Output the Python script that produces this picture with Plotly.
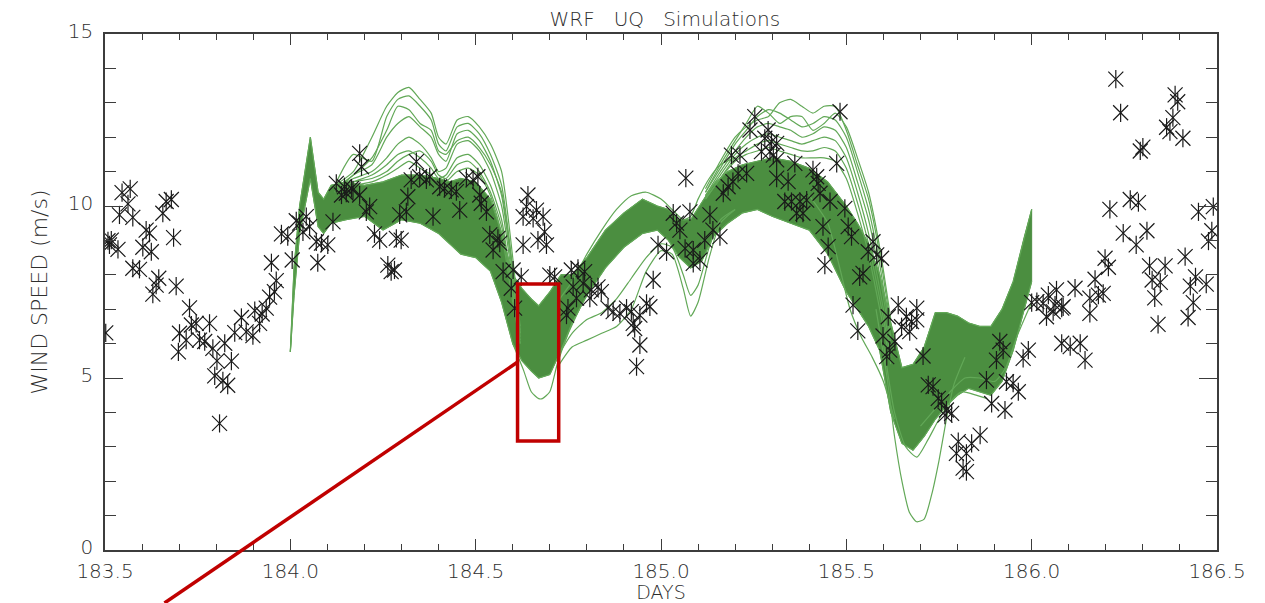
import plotly.graph_objects as go

# ---------------- ensemble: dense core band (lower / upper envelope) ----------------
core_day = [184.000, 184.010, 184.025, 184.054, 184.075, 184.090, 184.110, 184.150, 184.200, 184.250,
            184.300, 184.350, 184.400, 184.430, 184.460, 184.500, 184.540, 184.570, 184.600, 184.625,
            184.650, 184.670, 184.700, 184.730, 184.760, 184.800, 184.850, 184.900, 184.950, 184.990,
            185.020, 185.050, 185.080, 185.110, 185.140, 185.180, 185.220, 185.260, 185.300, 185.350,
            185.400, 185.450, 185.500, 185.530, 185.560, 185.590, 185.620, 185.650, 185.680, 185.710,
            185.740, 185.770, 185.800, 185.830, 185.860, 185.890, 185.920, 185.950, 185.980, 186.000]
core_low = [5.76, 7.4, 9.2, 10.8, 9.4, 9.2, 9.5, 9.6, 9.7, 9.3,
            9.6, 9.5, 9.2, 8.9, 8.6, 8.5, 8.1, 7.2, 6.0, 5.5,
            5.2, 5.0, 5.1, 5.8, 6.6, 7.4, 8.2, 8.8, 9.2, 9.3,
            9.0, 8.5, 8.2, 8.4, 9.1, 9.5, 9.8, 9.9, 9.7, 9.5,
            9.3, 8.6, 7.5, 7.0, 6.5, 5.8, 4.0, 3.1, 2.9, 3.3,
            3.8, 4.2, 4.5, 4.7, 4.6, 4.5, 4.9, 5.8, 7.0, 7.8]
core_high = [5.76, 8.2, 10.0, 12.0, 10.4, 10.2, 10.6, 10.7, 10.6, 10.7,
             10.9, 10.9, 10.8, 10.7, 10.8, 10.7, 10.2, 9.2, 8.0, 7.6,
             7.3, 7.1, 7.5, 8.0, 8.0, 8.5, 9.3, 9.8, 10.2, 10.0,
             9.9, 9.6, 9.6, 10.1, 10.6, 11.0, 11.2, 11.3, 11.4, 11.3,
             11.1, 10.7, 10.0, 9.5, 8.9, 8.0, 6.6, 5.3, 5.4, 5.9,
             6.9, 6.9, 6.8, 6.6, 6.5, 6.5, 7.0, 7.8, 9.1, 9.9]

# ---------------- ensemble: individual members outside the core ----------------
hump1_day = [184.12, 184.17, 184.22, 184.26, 184.29, 184.32, 184.35, 184.38, 184.40,
             184.42, 184.45, 184.48, 184.51, 184.54, 184.57, 184.60, 184.62]
hump1_a = [10.6, 11.0, 12.0, 12.9, 13.3, 13.45, 13.1, 12.7, 12.0, 11.8, 12.5, 12.6, 12.3, 11.8, 11.0, 8.5, 6.5]
hump1_b = [10.6, 11.5, 11.3, 12.6, 13.1, 13.2, 12.9, 12.5, 11.8, 11.6, 12.3, 12.4, 12.1, 11.5, 10.6, 8.2, 6.4]
hump1_c = [10.4, 10.9, 11.2, 12.0, 12.4, 12.6, 12.3, 12.0, 11.5, 11.3, 12.1, 12.2, 11.9, 11.3, 10.3, 8.0, 6.3]
hump1_d = [10.5, 10.8, 11.0, 11.4, 11.8, 12.0, 11.8, 11.4, 11.0, 11.1, 11.8, 11.9, 11.6, 11.0, 10.0, 7.8, 6.2]
hump1_e = [10.4, 10.7, 10.9, 11.2, 11.5, 11.6, 11.4, 11.1, 10.8, 10.9, 11.4, 11.5, 11.2, 10.6, 9.6, 7.5, 6.1]
hump1_f = [10.4, 10.6, 10.7, 10.9, 11.1, 11.3, 11.1, 10.9, 10.6, 10.7, 11.0, 11.1, 10.9, 10.3, 9.2, 7.2, 6.0]
hump1_g = [10.5, 10.9, 11.4, 12.2, 12.9, 12.8, 12.4, 12.2, 11.6, 11.5, 11.9, 12.0, 11.7, 11.2, 10.4, 8.1, 6.3]
hump1_h = [10.5, 10.7, 10.8, 11.0, 11.3, 11.5, 11.6, 11.3, 10.9, 10.8, 11.2, 11.3, 11.0, 10.4, 9.4, 7.4, 6.0]

hump2_day = [185.12, 185.16, 185.20, 185.23, 185.26, 185.29, 185.32, 185.35, 185.38,
             185.41, 185.44, 185.47, 185.50, 185.53, 185.56, 185.59, 185.62]
hump2_a = [10.5, 11.3, 12.0, 12.3, 12.5, 12.6, 13.0, 13.1, 12.9, 12.7, 12.9, 12.9, 12.2, 11.2, 10.2, 8.6, 6.5]
hump2_b = [10.4, 11.1, 11.8, 12.2, 12.6, 12.8, 12.7, 12.5, 12.3, 12.4, 12.6, 12.5, 12.0, 11.0, 9.9, 8.3, 6.2]
hump2_c = [10.3, 11.0, 11.6, 12.0, 12.3, 12.4, 12.3, 12.2, 12.0, 12.1, 12.3, 12.2, 11.7, 10.7, 9.6, 8.0, 6.0]
hump2_d = [10.3, 10.9, 11.5, 11.8, 12.0, 12.1, 12.0, 11.9, 11.8, 11.9, 12.0, 11.9, 11.4, 10.4, 9.2, 7.6, 5.8]
hump2_e = [10.2, 10.8, 11.4, 11.6, 11.8, 11.9, 11.8, 11.7, 11.6, 11.6, 11.7, 11.6, 11.1, 10.1, 8.9, 7.3, 5.6]
hump2_f = [10.2, 10.8, 11.3, 11.5, 11.6, 11.7, 11.6, 11.5, 11.4, 11.4, 11.4, 11.3, 10.8, 9.8, 8.6, 7.0, 5.4]
hump2_g = [10.4, 11.2, 11.9, 12.4, 12.9, 12.7, 12.4, 12.6, 12.6, 12.2, 12.4, 12.7, 12.3, 11.4, 10.4, 8.8, 6.7]

dip1_day = [184.60, 184.63, 184.65, 184.67, 184.68, 184.70, 184.72, 184.75, 184.78]
dip1_speed = [6.0, 5.2, 4.6, 4.4, 4.4, 4.6, 5.4, 6.3, 7.0]

rise_day = [184.72, 184.76, 184.80, 184.84, 184.88, 184.92, 184.96, 185.00,
            185.03, 185.06, 185.08, 185.10, 185.13, 185.16, 185.20]
rise_a = [5.3, 5.9, 6.1, 6.3, 6.5, 7.0, 8.1, 8.7, 8.6, 7.6, 6.8, 7.2, 8.5, 9.5, 9.9]
rise_b = [5.6, 6.3, 6.7, 6.9, 7.3, 7.9, 8.5, 8.9, 8.8, 8.0, 7.4, 7.7, 8.8, 9.6, 9.9]
rise_c = [7.2, 7.8, 8.6, 9.3, 9.9, 10.3, 10.4, 10.2, 9.9, 9.6, 9.7, 10.2, 10.8, 11.2, 11.4]

deep_day = [185.58, 185.61, 185.63, 185.65, 185.67, 185.69, 185.71, 185.73, 185.75, 185.77, 185.79, 185.82]
deep_speed = [7.0, 5.0, 3.3, 2.0, 1.1, 0.82, 0.9, 1.6, 2.6, 3.8, 4.8, 5.6]

low2_day = [185.60, 185.63, 185.66, 185.69, 185.72, 185.75, 185.78, 185.81, 185.85, 185.88]
low2_speed = [6.0, 4.0, 3.0, 2.7, 3.2, 3.8, 4.3, 4.6, 4.5, 4.4]

early_day = [185.40, 185.45, 185.48, 185.51, 185.54, 185.57, 185.60, 185.63]
early_speed = [10.3, 9.5, 8.3, 7.0, 6.2, 5.6, 4.9, 3.8]

low3_day = [185.70, 185.74, 185.78, 185.82, 185.86, 185.90, 185.93, 185.96, 186.00]
low3_speed = [3.6, 4.1, 4.6, 5.0, 5.0, 4.9, 5.3, 6.2, 7.2]

# ---------------- observations (asterisks) ----------------
obs_day_a = [183.502, 183.508, 183.512, 183.517, 183.535, 183.539, 183.546, 183.562, 183.568, 183.575,
             183.575, 183.593, 183.602, 183.611, 183.620, 183.625, 183.629, 183.638, 183.645, 183.656,
             183.665, 183.679, 183.685, 183.692, 183.698, 183.701, 183.719, 183.728, 183.733, 183.746,
             183.755, 183.769, 183.782, 183.791, 183.796, 183.802, 183.809, 183.818, 183.823, 183.831,
             183.841, 183.850, 183.868, 183.881, 183.899, 183.904, 183.917, 183.924, 183.935, 183.944,
             183.949, 183.957, 183.962, 183.976, 183.993, 184.005, 184.016]
obs_speed_a = [6.31, 8.99, 8.87, 9.01, 8.74, 9.74, 10.39, 10.06, 10.50, 9.67,
               8.19, 8.16, 8.80, 9.30, 9.21, 8.67, 7.44, 7.70, 7.90, 9.79,
               10.13, 10.19, 9.08, 7.67, 5.76, 6.30, 6.10, 7.04, 6.54, 6.59,
               6.10, 6.06, 6.59, 5.86, 5.06, 5.50, 3.68, 4.92, 6.01, 4.79,
               5.49, 6.32, 6.76, 6.34, 6.23, 6.96, 6.59, 6.86, 7.03, 7.35,
               8.35, 7.51, 7.83, 9.19, 9.11, 8.43, 9.57]

obs_day_b = [184.025, 184.034, 184.043, 184.052, 184.070, 184.074, 184.084, 184.101, 184.115, 184.124,
             184.138, 184.146, 184.151, 184.165, 184.169, 184.187, 184.187, 184.192, 184.205, 184.214,
             184.227, 184.241, 184.263, 184.272, 184.281, 184.286, 184.295, 184.299, 184.313, 184.317,
             184.326, 184.340, 184.349, 184.367, 184.376, 184.385, 184.403, 184.416, 184.434, 184.448,
             184.457, 184.475, 184.493, 184.506, 184.511, 184.515, 184.529, 184.538, 184.547, 184.560,
             184.565, 184.574, 184.596, 184.601, 184.605, 184.623, 184.628, 184.628, 184.637, 184.641,
             184.655, 184.664, 184.668, 184.682, 184.686, 184.691, 184.700, 184.713]
obs_speed_b = [9.50, 9.25, 9.69, 9.40, 8.96, 8.35, 8.92, 8.87, 9.54, 10.66,
               10.32, 10.56, 10.37, 10.51, 10.47, 11.53, 10.32, 11.14, 9.83, 9.98,
               9.19, 9.01, 8.28, 8.09, 8.14, 9.06, 9.74, 9.01, 9.83, 10.27,
               10.76, 11.29, 10.85, 10.76, 10.85, 9.69, 10.56, 10.51, 10.47, 10.42,
               9.88, 10.81, 10.76, 10.85, 10.32, 10.08, 9.83, 9.16, 8.72, 9.06,
               8.92, 8.09, 7.61, 8.14, 7.03, 7.94, 9.69, 8.87, 9.98, 10.32,
               9.64, 9.88, 9.01, 9.69, 9.25, 8.87, 7.99, 7.94]

obs_day_c = [184.745, 184.749, 184.758, 184.763, 184.772, 184.776, 184.790, 184.794, 184.808, 184.812,
             184.830, 184.839, 184.857, 184.871, 184.889, 184.907, 184.920, 184.925, 184.929, 184.934,
             184.943, 184.943, 184.961, 184.970, 184.979, 184.992, 185.015, 185.033, 185.042, 185.051,
             185.065, 185.067, 185.078, 185.087, 185.087, 185.105, 185.118, 185.132, 185.140, 185.159,
             185.168, 185.181, 185.190, 185.194, 185.208, 185.213, 185.231, 185.240, 185.253, 185.271,
             185.280, 185.289, 185.294, 185.298, 185.303, 185.312, 185.312, 185.312, 185.334, 185.343,
             185.352, 185.361, 185.366, 185.375, 185.383, 185.393, 185.410, 185.420, 185.424, 185.429,
             185.437, 185.442, 185.451, 185.456, 185.474, 185.483, 185.496, 185.505, 185.514, 185.518,
             185.531, 185.536, 185.545, 185.559, 185.572, 185.582, 185.595]
obs_speed_c = [6.83, 7.03, 8.14, 7.65, 7.32, 8.19, 7.75, 8.09, 7.32, 7.56,
               7.65, 7.51, 7.03, 6.93, 6.88, 7.03, 6.93, 6.59, 6.44, 5.33,
               6.83, 5.96, 7.17, 7.07, 7.85, 8.87, 8.67, 9.79, 9.50, 9.30,
               8.77, 10.81, 9.83, 8.72, 8.33, 8.43, 9.01, 9.74, 9.30, 9.11,
               10.37, 10.56, 11.48, 10.71, 10.95, 11.48, 10.95, 12.21, 12.60, 11.58,
               11.97, 12.21, 11.58, 11.87, 11.48, 11.82, 11.34, 10.81, 10.13, 10.71,
               10.13, 11.24, 9.79, 10.13, 9.79, 10.17, 11.05, 10.85, 10.66, 10.37,
               9.40, 8.28, 8.82, 10.13, 11.24, 12.74, 9.93, 9.40, 9.11, 7.12,
               6.37, 7.94, 8.04, 8.67, 8.96, 8.58, 8.48]

obs_day_d = [185.599, 185.609, 185.613, 185.617, 185.631, 185.640, 185.649, 185.662, 185.671, 185.676,
             185.690, 185.690, 185.707, 185.721, 185.734, 185.748, 185.757, 185.766, 185.770, 185.784,
             185.797, 185.802, 185.815, 185.824, 185.824, 185.838, 185.861, 185.878, 185.892, 185.905,
             185.914, 185.923, 185.928, 185.932, 185.950, 185.964, 185.977, 185.991]
obs_speed_d = [6.22, 5.62, 6.78, 5.81, 6.06, 7.12, 6.49, 6.78, 6.35, 6.64,
               7.03, 6.69, 5.64, 4.80, 4.75, 4.41, 4.31, 3.92, 4.07, 3.97,
               2.81, 3.15, 2.38, 2.81, 2.28, 3.10, 3.34, 4.94, 4.26, 5.52,
               6.06, 5.81, 4.07, 4.89, 4.85, 4.60, 5.57, 5.81]

obs_day_e = [186.000, 186.014, 186.031, 186.040, 186.045, 186.058, 186.063, 186.067, 186.081, 186.081,
             186.085, 186.104, 186.117, 186.131, 186.144, 186.157, 186.157, 186.171, 186.180, 186.193,
             186.198, 186.207, 186.211, 186.227, 186.240, 186.247, 186.266, 186.282, 186.288, 186.293,
             186.300, 186.311, 186.318, 186.325, 186.332, 186.341, 186.347, 186.360, 186.364, 186.373,
             186.381, 186.387, 186.394, 186.408, 186.414, 186.422, 186.428, 186.436, 186.442, 186.450,
             186.471, 186.477, 186.486, 186.490]
obs_speed_e = [7.19, 7.22, 7.17, 6.78, 7.41, 6.93, 7.12, 7.56, 7.03, 6.01,
               7.07, 5.91, 7.61, 6.01, 5.52, 7.32, 6.88, 7.87, 7.41, 7.46,
               8.48, 8.22, 9.90, 13.69, 12.71, 9.21, 10.19, 8.87, 10.10, 11.60,
               11.71, 9.28, 8.26, 7.85, 7.33, 6.56, 7.78, 8.26, 12.29, 12.16,
               12.57, 13.23, 13.03, 11.97, 8.53, 6.76, 7.67, 7.19, 7.94, 9.83,
               7.73, 8.98, 9.28, 9.98]

# highlighted window (red box) and tick labels
box_day = [184.613, 184.724]
box_speed = [3.17, 7.73]
x_ticks = [183.5, 184.0, 184.5, 185.0, 185.5, 186.0, 186.5]
x_tick_text = ["183.5", "184.0", "184.5", "185.0", "185.5", "186.0", "186.5"]
y_ticks = [0, 5, 10, 15]

FILL_GREEN = "#4b8e40"
LINE_GREEN = "#62a857"
TEXT = "#2e2e2e"
AXIS = "#3c3c3c"
FONT = "DejaVu Sans"

fig = go.Figure()

# dense core band
fig.add_trace(go.Scatter(x=core_day + core_day[::-1], y=core_low + core_high[::-1],
                         mode="lines", fill="toself", fillcolor=FILL_GREEN,
                         line=dict(color=FILL_GREEN, width=1), hoverinfo="skip", showlegend=False))

members = [
    (hump1_day, hump1_a), (hump1_day, hump1_b), (hump1_day, hump1_c), (hump1_day, hump1_d),
    (hump1_day, hump1_e), (hump1_day, hump1_f), (hump1_day, hump1_g), (hump1_day, hump1_h),
    (hump2_day, hump2_a), (hump2_day, hump2_b), (hump2_day, hump2_c), (hump2_day, hump2_d),
    (hump2_day, hump2_e), (hump2_day, hump2_f), (hump2_day, hump2_g),
    (dip1_day, dip1_speed), (rise_day, rise_a), (rise_day, rise_b), (rise_day, rise_c),
    (deep_day, deep_speed), (low2_day, low2_speed), (early_day, early_speed),
    (low3_day, low3_speed),
]
for xd, yd in members:
    fig.add_trace(go.Scatter(x=xd, y=yd, mode="lines",
                             line=dict(color=LINE_GREEN, width=1.2, shape="spline", smoothing=0.6),
                             hoverinfo="skip", showlegend=False))
# core edges drawn as member lines
for edge in (core_low, core_high):
    fig.add_trace(go.Scatter(x=core_day, y=edge, mode="lines", line=dict(color=LINE_GREEN, width=1.2),
                             hoverinfo="skip", showlegend=False))

obs_day = obs_day_a + obs_day_b + obs_day_c + obs_day_d + obs_day_e
obs_speed = obs_speed_a + obs_speed_b + obs_speed_c + obs_speed_d + obs_speed_e

for sym, size in (("x-thin-open", 15), ("line-ns-open", 13)):
    fig.add_trace(go.Scatter(x=obs_day, y=obs_speed, mode="markers",
                             marker=dict(symbol=sym, size=size, color="#1a1a1a",
                                         line=dict(color="rgba(25,25,25,0.85)", width=1.2)),
                             showlegend=False, cliponaxis=True))

# red highlight box
fig.add_shape(type="rect", xref="x", yref="y", x0=box_day[0], x1=box_day[1], y0=box_speed[0], y1=box_speed[1],
              line=dict(color="#c00000", width=3.5), layer="above")
# red pointer line (leaves the plot toward the bottom-left)
fig.add_shape(type="line", xref="paper", yref="paper", x0=0.3711, y0=0.3643, x1=0.0535, y1=-0.1027,
              line=dict(color="#c00000", width=3.5), layer="above")

axis_common = dict(showgrid=False, zeroline=False, showline=True, linecolor=AXIS, linewidth=1.5,
                   mirror="ticks", ticks="inside", tickcolor=AXIS, tickwidth=1.3,
                   tickfont=dict(family=FONT, size=20, color=TEXT, weight=300))

fig.update_xaxes(range=[183.5, 186.5], tickvals=x_ticks, ticktext=x_tick_text, ticklen=11, ticklabelstandoff=2,
                 minor=dict(dtick=0.1, tick0=183.5, ticks="inside", ticklen=6, tickcolor=AXIS, tickwidth=1.3),
                 title=dict(text="DAYS", font=dict(family=FONT, size=19, color=TEXT, weight=300), standoff=0),
                 **axis_common)
fig.update_yaxes(range=[0, 15], tickvals=y_ticks, ticklen=18, ticklabelstandoff=6, ticklabelshift=-3,
                 minor=dict(dtick=1, tick0=0, ticks="inside", ticklen=11, tickcolor=AXIS, tickwidth=1.3),
                 title=dict(text="WIND SPEED (m/s)", font=dict(family=FONT, size=22, color=TEXT, weight=300),
                            standoff=14),
                 **axis_common)

# the page body adds an 8px margin, so the figure is sized to fit the 1265x603 window
fig.update_layout(
    width=1257, height=595,
    margin=dict(l=97, r=48, t=26, b=53, autoexpand=False),
    plot_bgcolor="white", paper_bgcolor="white",
    title=dict(text="WRF&nbsp;&nbsp; UQ&nbsp;&nbsp; Simulations", x=0.5225, xanchor="center", y=1.0,
               yanchor="top", pad=dict(t=4), font=dict(family=FONT, size=20, color=TEXT, weight=300)),
    showlegend=False,
)

fig.write_html("out.html")
